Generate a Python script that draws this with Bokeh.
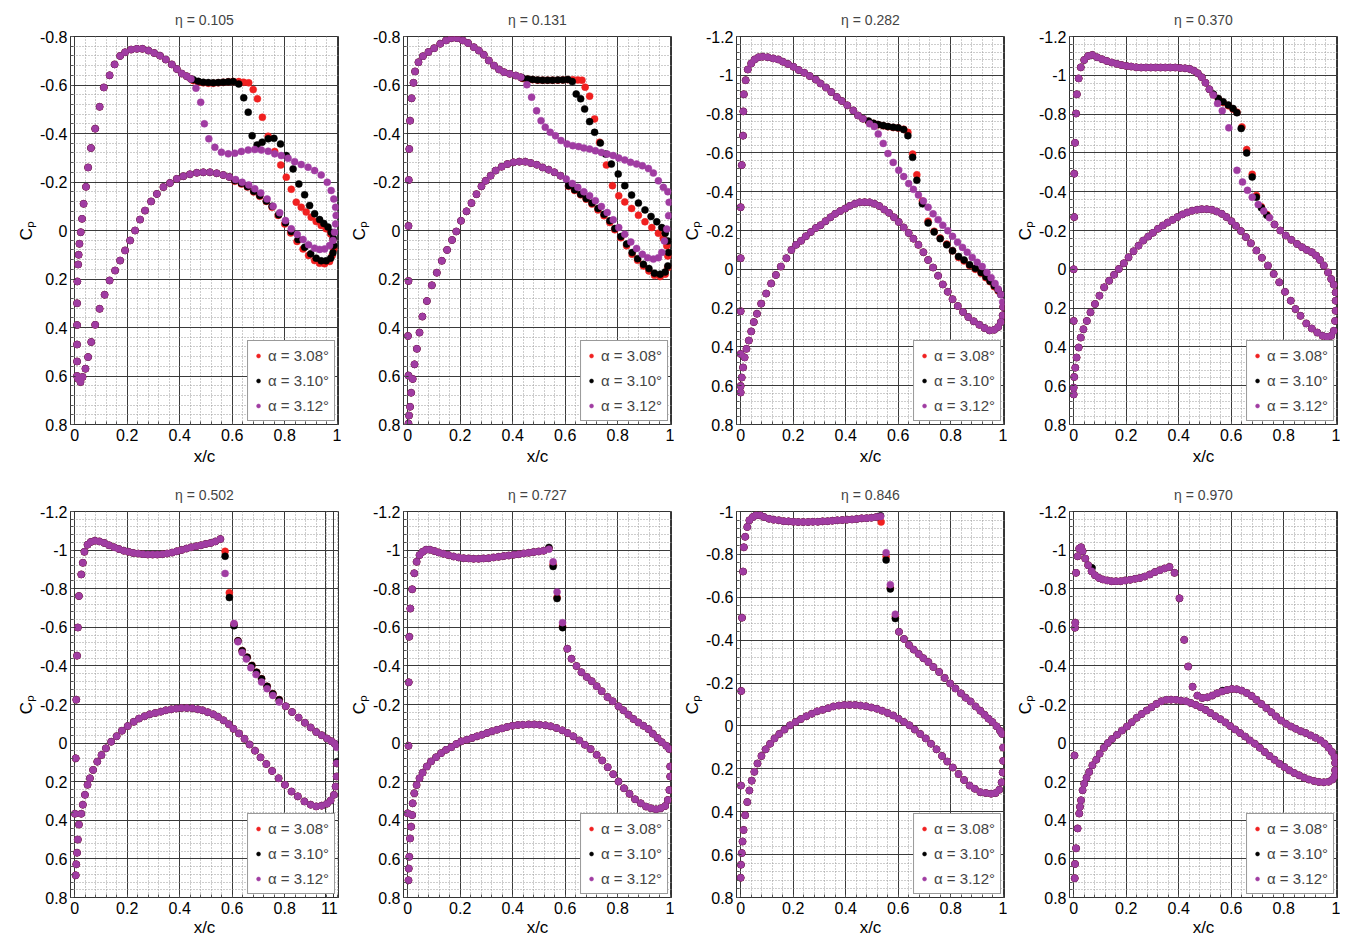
from bokeh.plotting import figure
from bokeh.layouts import column, row
from bokeh.models import (Range1d, FixedTicker, CustomJSTickFormatter, Spacer,
                          ColumnDataSource)
from bokeh.embed import file_html
from bokeh.resources import INLINE
import numpy as np

# ---------------- data ----------------
TITLES = ["η = 0.105", "η = 0.131", "η = 0.282", "η = 0.370",
          "η = 0.502", "η = 0.727", "η = 0.846", "η = 0.970"]
ALPHAS = ["α = 3.08°", "α = 3.10°", "α = 3.12°"]
COLORS = ["#f02020", "#000000", "#a03ca2"]
Y_LOW = [-0.8, -0.8, -1.2, -1.2, -1.2, -1.2, -1.0, -1.2]
Y_HIGH = [0.8] * 8
X_TICKS = [0, 0.2, 0.4, 0.6, 0.8, 1.0]
X_TICKS_P5 = [0, 0.2, 0.4, 0.6, 0.8, 0.955, 0.985]

# ---- panel 1 (eta = 0.105)
P1_UP_X = [0.009, 0.009, 0.009, 0.009, 0.009, 0.010, 0.013, 0.015, 0.018, 0.023, 0.028, 0.034, 0.043, 0.051, 0.062, 0.078, 0.095, 0.111, 0.133, 0.152, 0.173, 0.192, 0.215, 0.237, 0.258, 0.281, 0.303, 0.325, 0.347, 0.370, 0.389, 0.408, 0.427, 0.443]
P1_UP_CP = [0.60, 0.54, 0.47, 0.39, 0.30, 0.21, 0.14, 0.10, 0.055, 0.007, -0.048, -0.11, -0.18, -0.26, -0.34, -0.42, -0.51, -0.59, -0.64, -0.685, -0.72, -0.735, -0.746, -0.749, -0.749, -0.742, -0.732, -0.721, -0.705, -0.685, -0.666, -0.647, -0.636, -0.625]
P1_LO_X = [0.589, 0.566, 0.541, 0.515, 0.490, 0.465, 0.439, 0.414, 0.389, 0.363, 0.338, 0.313, 0.291, 0.268, 0.249, 0.230, 0.211, 0.192, 0.173, 0.154, 0.133, 0.114, 0.095, 0.078, 0.063, 0.051, 0.041, 0.030, 0.022, 0.013]
P1_LO_CP = [-0.221, -0.229, -0.236, -0.240, -0.240, -0.238, -0.232, -0.224, -0.213, -0.196, -0.179, -0.151, -0.12, -0.082, -0.045, 0.0, 0.041, 0.082, 0.124, 0.165, 0.206, 0.265, 0.323, 0.389, 0.46, 0.522, 0.57, 0.604, 0.625, 0.611]
P1_A308_X = [0.452, 0.471, 0.490, 0.509, 0.528, 0.547, 0.566, 0.585, 0.604, 0.625, 0.644, 0.663, 0.680, 0.696, 0.715, 0.737, 0.762, 0.785, 0.806, 0.825, 0.844, 0.863, 0.882, 0.901, 0.920, 0.939, 0.958, 0.975, 0.984, 0.987, 0.981, 0.971, 0.952, 0.933, 0.914, 0.891, 0.870, 0.847, 0.823, 0.800, 0.775, 0.752, 0.730, 0.705, 0.682, 0.658, 0.635, 0.610]
P1_A308_CP = [-0.618, -0.611, -0.609, -0.607, -0.607, -0.609, -0.611, -0.613, -0.614, -0.614, -0.611, -0.609, -0.581, -0.543, -0.467, -0.389, -0.326, -0.27, -0.22, -0.17, -0.117, -0.096, -0.076, -0.055, -0.037, -0.021, -0.007, 0.014, 0.037, 0.076, 0.103, 0.128, 0.137, 0.135, 0.124, 0.103, 0.076, 0.045, 0.01, -0.027, -0.062, -0.096, -0.12, -0.141, -0.159, -0.179, -0.192, -0.203]
P1_A310_X = [0.452, 0.471, 0.490, 0.509, 0.528, 0.547, 0.566, 0.585, 0.604, 0.625, 0.644, 0.661, 0.676, 0.695, 0.714, 0.737, 0.759, 0.784, 0.806, 0.832, 0.854, 0.876, 0.895, 0.914, 0.933, 0.949, 0.965, 0.977, 0.985, 0.987, 0.984, 0.975, 0.958, 0.939, 0.920, 0.899, 0.876, 0.851, 0.825, 0.803, 0.777, 0.752, 0.730, 0.705, 0.682, 0.658, 0.635, 0.610]
P1_A310_CP = [-0.622, -0.615, -0.611, -0.610, -0.609, -0.610, -0.611, -0.613, -0.614, -0.604, -0.547, -0.488, -0.391, -0.353, -0.364, -0.378, -0.380, -0.357, -0.309, -0.254, -0.192, -0.147, -0.103, -0.069, -0.045, -0.029, -0.014, 0.007, 0.032, 0.062, 0.092, 0.114, 0.125, 0.125, 0.114, 0.096, 0.069, 0.037, 0.004, -0.032, -0.065, -0.1, -0.122, -0.144, -0.162, -0.181, -0.195, -0.206]
P1_A312_X = [0.462, 0.480, 0.494, 0.511, 0.534, 0.559, 0.585, 0.610, 0.635, 0.661, 0.686, 0.711, 0.737, 0.762, 0.787, 0.813, 0.838, 0.863, 0.889, 0.914, 0.939, 0.962, 0.977, 0.987, 0.994, 0.996, 0.994, 0.990, 0.984, 0.971, 0.952, 0.933, 0.914, 0.891, 0.870, 0.848, 0.825, 0.803, 0.781, 0.756, 0.733, 0.709, 0.686, 0.663, 0.638, 0.613]
P1_A312_CP = [-0.587, -0.529, -0.44, -0.378, -0.343, -0.323, -0.316, -0.319, -0.326, -0.332, -0.334, -0.332, -0.327, -0.316, -0.309, -0.298, -0.284, -0.272, -0.261, -0.247, -0.229, -0.199, -0.165, -0.13, -0.096, -0.062, -0.027, 0.007, 0.041, 0.062, 0.076, 0.078, 0.073, 0.059, 0.037, 0.016, -0.007, -0.041, -0.073, -0.1, -0.13, -0.155, -0.172, -0.188, -0.199, -0.21]

# ---- panel 2 (eta = 0.131)
P2_UP_X = [0.003, 0.001, 0.003, 0.003, 0.004, 0.006, 0.009, 0.015, 0.022, 0.028, 0.041, 0.058, 0.079, 0.101, 0.124, 0.146, 0.166, 0.188, 0.210, 0.230, 0.252, 0.271, 0.290, 0.309, 0.329, 0.348, 0.367, 0.389, 0.412, 0.431]
P2_UP_CP = [0.598, 0.435, 0.208, -0.019, -0.208, -0.336, -0.453, -0.545, -0.609, -0.656, -0.694, -0.719, -0.736, -0.752, -0.770, -0.784, -0.793, -0.793, -0.784, -0.773, -0.756, -0.742, -0.725, -0.701, -0.680, -0.664, -0.653, -0.646, -0.639, -0.632]
P2_LO_X = [0.582, 0.559, 0.537, 0.514, 0.492, 0.469, 0.448, 0.425, 0.403, 0.380, 0.358, 0.335, 0.316, 0.297, 0.281, 0.262, 0.243, 0.224, 0.203, 0.185, 0.169, 0.150, 0.130, 0.111, 0.092, 0.073, 0.056, 0.045, 0.035, 0.026, 0.019, 0.013, 0.009, 0.005, 0.003]
P2_LO_CP = [-0.226, -0.24, -0.251, -0.26, -0.271, -0.278, -0.284, -0.284, -0.281, -0.274, -0.263, -0.247, -0.226, -0.205, -0.182, -0.15, -0.113, -0.079, -0.04, 0.004, 0.039, 0.08, 0.125, 0.174, 0.226, 0.291, 0.355, 0.421, 0.488, 0.552, 0.612, 0.669, 0.727, 0.763, 0.796]
P2_A308_X = [0.437, 0.457, 0.476, 0.495, 0.514, 0.533, 0.552, 0.572, 0.591, 0.610, 0.629, 0.648, 0.664, 0.676, 0.693, 0.712, 0.731, 0.757, 0.780, 0.804, 0.827, 0.853, 0.879, 0.904, 0.930, 0.955, 0.974, 0.987, 0.991, 0.991, 0.981, 0.962, 0.940, 0.919, 0.898, 0.876, 0.855, 0.834, 0.812, 0.789, 0.770, 0.748, 0.725, 0.702, 0.680, 0.659, 0.636, 0.613]
P2_A308_CP = [-0.627, -0.624, -0.622, -0.62, -0.62, -0.62, -0.62, -0.62, -0.621, -0.622, -0.622, -0.621, -0.62, -0.591, -0.554, -0.46, -0.364, -0.27, -0.185, -0.143, -0.118, -0.091, -0.063, -0.036, -0.012, 0.011, 0.033, 0.063, 0.105, 0.153, 0.18, 0.19, 0.185, 0.167, 0.146, 0.123, 0.098, 0.063, 0.03, -0.003, -0.033, -0.061, -0.085, -0.109, -0.129, -0.147, -0.165, -0.182]
P2_A310_X = [0.437, 0.457, 0.476, 0.495, 0.514, 0.533, 0.552, 0.572, 0.591, 0.610, 0.627, 0.642, 0.659, 0.674, 0.693, 0.712, 0.734, 0.754, 0.776, 0.802, 0.827, 0.853, 0.879, 0.904, 0.927, 0.949, 0.968, 0.981, 0.991, 0.994, 0.991, 0.981, 0.962, 0.940, 0.919, 0.898, 0.876, 0.855, 0.834, 0.812, 0.789, 0.770, 0.748, 0.725, 0.702, 0.680, 0.659, 0.636, 0.613]
P2_A310_CP = [-0.629, -0.625, -0.623, -0.621, -0.62, -0.62, -0.62, -0.621, -0.621, -0.623, -0.614, -0.563, -0.543, -0.501, -0.449, -0.405, -0.361, -0.315, -0.274, -0.233, -0.185, -0.146, -0.113, -0.085, -0.058, -0.036, -0.012, 0.011, 0.043, 0.091, 0.146, 0.171, 0.18, 0.176, 0.157, 0.139, 0.116, 0.091, 0.056, 0.025, -0.008, -0.04, -0.067, -0.091, -0.113, -0.132, -0.15, -0.168, -0.185]
P2_A312_X = [0.454, 0.472, 0.491, 0.508, 0.524, 0.543, 0.563, 0.584, 0.607, 0.629, 0.651, 0.671, 0.693, 0.715, 0.738, 0.760, 0.783, 0.804, 0.827, 0.849, 0.872, 0.894, 0.917, 0.936, 0.955, 0.974, 0.991, 0.996, 0.994, 0.987, 0.978, 0.968, 0.955, 0.936, 0.914, 0.894, 0.872, 0.850, 0.827, 0.804, 0.783, 0.760, 0.738, 0.715, 0.693, 0.671, 0.648, 0.627, 0.604]
P2_A312_CP = [-0.601, -0.55, -0.494, -0.453, -0.426, -0.405, -0.391, -0.371, -0.357, -0.35, -0.346, -0.34, -0.336, -0.329, -0.322, -0.315, -0.309, -0.299, -0.291, -0.281, -0.274, -0.267, -0.256, -0.237, -0.205, -0.178, -0.16, -0.116, -0.061, -0.006, 0.043, 0.091, 0.112, 0.118, 0.112, 0.098, 0.074, 0.047, 0.015, -0.012, -0.044, -0.074, -0.099, -0.123, -0.143, -0.16, -0.178, -0.194, -0.212]

# ---- panel 3 (eta = 0.282)
P3_UP_X = [0.0, 0.0, 0.0, 0.0, 0.004, 0.009, 0.010, 0.012, 0.019, 0.027, 0.040, 0.053, 0.068, 0.084, 0.103, 0.124, 0.143, 0.161, 0.180, 0.201, 0.221, 0.242, 0.263, 0.286, 0.304, 0.325, 0.345, 0.366, 0.385, 0.406, 0.429, 0.447, 0.466]
P3_UP_CP = [0.436, 0.216, -0.057, -0.32, -0.537, -0.689, -0.814, -0.902, -0.975, -1.03, -1.061, -1.082, -1.093, -1.096, -1.093, -1.087, -1.082, -1.07, -1.058, -1.044, -1.027, -1.013, -0.996, -0.978, -0.958, -0.937, -0.914, -0.888, -0.868, -0.845, -0.819, -0.793, -0.776]
P3_LO_X = [1.0, 0.998, 0.991, 0.981, 0.966, 0.948, 0.929, 0.909, 0.888, 0.867, 0.847, 0.827, 0.807, 0.789, 0.770, 0.752, 0.733, 0.714, 0.696, 0.677, 0.658, 0.640, 0.621, 0.602, 0.584, 0.565, 0.547, 0.528, 0.509, 0.491, 0.472, 0.453, 0.435, 0.416, 0.398, 0.379, 0.360, 0.342, 0.323, 0.304, 0.286, 0.267, 0.248, 0.230, 0.211, 0.193, 0.174, 0.153, 0.134, 0.116, 0.097, 0.078, 0.062, 0.050, 0.040, 0.031, 0.022, 0.015, 0.009, 0.004, 0.0, 0.0]
P3_LO_CP = [0.194, 0.237, 0.272, 0.298, 0.312, 0.315, 0.303, 0.286, 0.268, 0.246, 0.22, 0.189, 0.154, 0.116, 0.078, 0.033, -0.009, -0.048, -0.088, -0.126, -0.158, -0.187, -0.216, -0.244, -0.268, -0.291, -0.308, -0.326, -0.338, -0.345, -0.346, -0.345, -0.338, -0.327, -0.313, -0.3, -0.286, -0.268, -0.248, -0.227, -0.213, -0.192, -0.17, -0.147, -0.126, -0.1, -0.057, -0.014, 0.029, 0.073, 0.125, 0.177, 0.229, 0.272, 0.32, 0.367, 0.41, 0.454, 0.506, 0.558, 0.601, 0.635]
P3_A308_X = [0.487, 0.506, 0.524, 0.543, 0.561, 0.581, 0.600, 0.621, 0.637, 0.655, 0.671, 0.692, 0.714, 0.737, 0.760, 0.785, 0.807, 0.830, 0.851, 0.872, 0.894, 0.916, 0.934, 0.950, 0.966, 0.981]
P3_A308_CP = [-0.762, -0.752, -0.745, -0.74, -0.735, -0.731, -0.728, -0.722, -0.706, -0.594, -0.487, -0.352, -0.248, -0.196, -0.161, -0.13, -0.095, -0.061, -0.043, -0.019, 0.0, 0.021, 0.043, 0.064, 0.09, 0.111]
P3_A310_X = [0.487, 0.506, 0.524, 0.543, 0.561, 0.581, 0.600, 0.621, 0.637, 0.655, 0.671, 0.692, 0.714, 0.737, 0.760, 0.785, 0.807, 0.830, 0.851, 0.872, 0.894, 0.916, 0.934, 0.950, 0.966, 0.981, 0.991]
P3_A310_CP = [-0.764, -0.753, -0.746, -0.741, -0.736, -0.732, -0.729, -0.72, -0.689, -0.577, -0.459, -0.338, -0.239, -0.192, -0.158, -0.126, -0.095, -0.066, -0.048, -0.023, -0.005, 0.016, 0.038, 0.061, 0.085, 0.107, 0.13]
P3_A312_X = [0.491, 0.509, 0.524, 0.543, 0.561, 0.581, 0.602, 0.621, 0.640, 0.658, 0.677, 0.696, 0.714, 0.733, 0.752, 0.770, 0.789, 0.807, 0.826, 0.845, 0.863, 0.882, 0.901, 0.920, 0.938, 0.954, 0.969, 0.981, 0.991, 0.998]
P3_A312_CP = [-0.75, -0.736, -0.698, -0.649, -0.597, -0.551, -0.511, -0.478, -0.442, -0.412, -0.383, -0.352, -0.32, -0.286, -0.256, -0.227, -0.199, -0.17, -0.14, -0.113, -0.088, -0.061, -0.036, -0.014, 0.016, 0.043, 0.073, 0.102, 0.13, 0.168]

# ---- panel 4 (eta = 0.370)
P4_UP_X = [0.0, 0.0, 0.002, 0.002, 0.005, 0.009, 0.012, 0.019, 0.027, 0.040, 0.055, 0.071, 0.089, 0.108, 0.126, 0.145, 0.164, 0.182, 0.201, 0.219, 0.238, 0.257, 0.275, 0.294, 0.312, 0.331, 0.349, 0.368, 0.387, 0.405, 0.424, 0.442, 0.458, 0.473, 0.488, 0.502, 0.517]
P4_UP_CP = [0.266, 0.0, -0.269, -0.493, -0.652, -0.803, -0.902, -0.984, -1.041, -1.079, -1.1, -1.105, -1.093, -1.083, -1.074, -1.066, -1.059, -1.053, -1.048, -1.045, -1.041, -1.04, -1.04, -1.04, -1.04, -1.04, -1.04, -1.04, -1.04, -1.038, -1.036, -1.033, -1.024, -1.01, -0.99, -0.962, -0.928]
P4_LO_X = [0.765, 0.787, 0.808, 0.829, 0.851, 0.870, 0.888, 0.907, 0.923, 0.938, 0.953, 0.969, 0.981, 0.991, 0.998, 0.998, 0.998, 0.996, 0.991, 0.981, 0.965, 0.948, 0.928, 0.907, 0.886, 0.864, 0.845, 0.827, 0.805, 0.783, 0.762, 0.740, 0.717, 0.696, 0.675, 0.656, 0.637, 0.618, 0.601, 0.582, 0.564, 0.545, 0.527, 0.507, 0.488, 0.470, 0.451, 0.432, 0.414, 0.395, 0.377, 0.358, 0.340, 0.321, 0.302, 0.284, 0.265, 0.247, 0.228, 0.209, 0.191, 0.172, 0.154, 0.135, 0.116, 0.098, 0.081, 0.064, 0.050, 0.037, 0.027, 0.019, 0.011, 0.006, 0.002, 0.0, 0.0]
P4_LO_CP = [-0.231, -0.2, -0.174, -0.152, -0.131, -0.114, -0.1, -0.088, -0.071, -0.048, -0.019, 0.016, 0.05, 0.079, 0.119, 0.162, 0.214, 0.266, 0.317, 0.343, 0.348, 0.343, 0.326, 0.305, 0.279, 0.24, 0.205, 0.162, 0.116, 0.067, 0.024, -0.019, -0.059, -0.097, -0.134, -0.166, -0.197, -0.224, -0.248, -0.269, -0.286, -0.298, -0.307, -0.31, -0.31, -0.307, -0.302, -0.293, -0.283, -0.269, -0.255, -0.241, -0.226, -0.209, -0.188, -0.169, -0.148, -0.122, -0.093, -0.062, -0.031, -0.002, 0.028, 0.059, 0.093, 0.136, 0.179, 0.222, 0.266, 0.309, 0.352, 0.403, 0.455, 0.507, 0.555, 0.61, 0.645]
P4_A308_X = [0.532, 0.551, 0.569, 0.589, 0.607, 0.622, 0.641, 0.659, 0.680, 0.696, 0.715, 0.736]
P4_A308_CP = [-0.9, -0.878, -0.86, -0.843, -0.826, -0.81, -0.734, -0.617, -0.49, -0.381, -0.322, -0.283]
P4_A310_X = [0.532, 0.551, 0.569, 0.589, 0.607, 0.622, 0.638, 0.659, 0.680, 0.696, 0.715, 0.736]
P4_A310_CP = [-0.903, -0.881, -0.864, -0.847, -0.829, -0.807, -0.726, -0.6, -0.476, -0.372, -0.317, -0.278]
P4_A312_X = [0.532, 0.548, 0.566, 0.591, 0.622, 0.643, 0.662, 0.680, 0.703, 0.724, 0.746]
P4_A312_CP = [-0.898, -0.855, -0.817, -0.729, -0.51, -0.45, -0.407, -0.372, -0.334, -0.3, -0.266]

# ---- panel 5 (eta = 0.502)
P5_UP_X = [0.001, 0.004, 0.006, 0.009, 0.012, 0.016, 0.025, 0.031, 0.037, 0.049, 0.061, 0.077, 0.094, 0.113, 0.131, 0.150, 0.168, 0.187, 0.205, 0.223, 0.242, 0.260, 0.279, 0.297, 0.315, 0.334, 0.352, 0.371, 0.389, 0.407, 0.426, 0.444, 0.463, 0.481, 0.499, 0.518, 0.536, 0.555]
P5_UP_CP = [0.366, 0.079, -0.225, -0.453, -0.599, -0.762, -0.874, -0.934, -0.991, -1.028, -1.042, -1.049, -1.045, -1.037, -1.025, -1.015, -1.006, -0.997, -0.991, -0.985, -0.982, -0.979, -0.977, -0.977, -0.977, -0.979, -0.982, -0.987, -0.994, -1.001, -1.008, -1.015, -1.02, -1.025, -1.032, -1.037, -1.045, -1.057]
P5_LO_X = [0.804, 0.828, 0.853, 0.877, 0.899, 0.920, 0.941, 0.961, 0.978, 0.990, 0.998, 0.998, 0.994, 0.988, 0.975, 0.961, 0.941, 0.920, 0.899, 0.875, 0.850, 0.826, 0.801, 0.777, 0.752, 0.730, 0.708, 0.687, 0.666, 0.647, 0.626, 0.605, 0.587, 0.567, 0.546, 0.528, 0.507, 0.487, 0.469, 0.448, 0.427, 0.407, 0.387, 0.368, 0.347, 0.328, 0.307, 0.286, 0.266, 0.245, 0.225, 0.202, 0.180, 0.160, 0.139, 0.119, 0.102, 0.086, 0.070, 0.058, 0.049, 0.039, 0.031, 0.025, 0.016, 0.012, 0.009, 0.006, 0.004]
P5_LO_CP = [-0.191, -0.161, -0.132, -0.105, -0.081, -0.058, -0.041, -0.024, -0.01, 0.002, 0.105, 0.173, 0.225, 0.268, 0.297, 0.314, 0.324, 0.328, 0.319, 0.302, 0.276, 0.251, 0.216, 0.182, 0.144, 0.108, 0.074, 0.039, 0.007, -0.022, -0.05, -0.074, -0.098, -0.118, -0.136, -0.149, -0.16, -0.17, -0.175, -0.18, -0.182, -0.182, -0.179, -0.175, -0.17, -0.163, -0.156, -0.149, -0.139, -0.127, -0.11, -0.088, -0.064, -0.036, -0.007, 0.027, 0.062, 0.096, 0.139, 0.182, 0.216, 0.268, 0.319, 0.366, 0.422, 0.5, 0.568, 0.628, 0.685]
P5_A308_X = [0.573, 0.589, 0.607, 0.622, 0.638, 0.657, 0.675, 0.693, 0.712, 0.733, 0.755, 0.779]
P5_A308_CP = [-0.994, -0.779, -0.616, -0.53, -0.479, -0.445, -0.402, -0.367, -0.333, -0.294, -0.256, -0.225]
P5_A310_X = [0.573, 0.589, 0.607, 0.622, 0.638, 0.657, 0.675, 0.693, 0.712, 0.733, 0.755, 0.779, 0.998, 1.0]
P5_A310_CP = [-0.968, -0.754, -0.608, -0.53, -0.479, -0.445, -0.402, -0.367, -0.333, -0.294, -0.256, -0.225, 0.008, 0.096]
P5_A312_X = [0.573, 0.607, 0.622, 0.638, 0.654, 0.671, 0.691, 0.712, 0.733, 0.755, 0.779, 0.998]
P5_A312_CP = [-0.879, -0.62, -0.525, -0.47, -0.436, -0.39, -0.355, -0.316, -0.282, -0.247, -0.213, 0.022]

# ---- panel 6 (eta = 0.727)
P6_UP_X = [0.0, 0.003, 0.004, 0.006, 0.010, 0.017, 0.025, 0.034, 0.045, 0.057, 0.070, 0.085, 0.102, 0.118, 0.136, 0.155, 0.175, 0.194, 0.213, 0.232, 0.251, 0.270, 0.289, 0.308, 0.327, 0.346, 0.366, 0.385, 0.404, 0.423, 0.442, 0.461, 0.480, 0.499, 0.518]
P6_UP_CP = [0.364, 0.014, -0.315, -0.551, -0.697, -0.797, -0.88, -0.939, -0.974, -0.991, -1.002, -1.002, -0.995, -0.988, -0.981, -0.974, -0.967, -0.962, -0.958, -0.957, -0.955, -0.955, -0.957, -0.958, -0.962, -0.965, -0.969, -0.972, -0.976, -0.979, -0.983, -0.986, -0.99, -0.993, -0.997]
P6_LO_X = [0.608, 0.624, 0.643, 0.662, 0.682, 0.701, 0.720, 0.739, 0.761, 0.781, 0.803, 0.822, 0.841, 0.860, 0.879, 0.898, 0.917, 0.934, 0.952, 0.968, 0.985, 0.997, 1.0, 1.0, 0.997, 0.991, 0.981, 0.964, 0.946, 0.927, 0.908, 0.888, 0.866, 0.845, 0.824, 0.803, 0.783, 0.762, 0.741, 0.720, 0.697, 0.675, 0.654, 0.631, 0.609, 0.589, 0.567, 0.545, 0.525, 0.503, 0.482, 0.461, 0.439, 0.420, 0.399, 0.378, 0.359, 0.340, 0.321, 0.302, 0.283, 0.264, 0.245, 0.225, 0.204, 0.185, 0.166, 0.146, 0.127, 0.108, 0.089, 0.073, 0.057, 0.045, 0.034, 0.025, 0.019, 0.017, 0.013, 0.009, 0.006, 0.004, 0.003]
P6_LO_CP = [-0.489, -0.437, -0.399, -0.367, -0.343, -0.321, -0.295, -0.269, -0.239, -0.217, -0.191, -0.17, -0.147, -0.125, -0.107, -0.09, -0.073, -0.049, -0.026, -0.005, 0.014, 0.031, 0.121, 0.173, 0.243, 0.295, 0.326, 0.338, 0.343, 0.338, 0.329, 0.312, 0.291, 0.263, 0.234, 0.199, 0.161, 0.125, 0.09, 0.061, 0.031, 0.009, -0.014, -0.035, -0.052, -0.066, -0.078, -0.087, -0.092, -0.095, -0.097, -0.097, -0.095, -0.094, -0.09, -0.083, -0.076, -0.069, -0.061, -0.052, -0.043, -0.035, -0.026, -0.017, -0.009, 0.005, 0.021, 0.035, 0.052, 0.073, 0.095, 0.121, 0.153, 0.182, 0.217, 0.26, 0.312, 0.373, 0.433, 0.494, 0.589, 0.65, 0.711]
P6_A308_X = [0.538, 0.554, 0.569, 0.590]
P6_A308_CP = [-1.01, -0.925, -0.755, -0.605]
P6_A310_X = [0.538, 0.554, 0.569, 0.590]
P6_A310_CP = [-1.014, -0.915, -0.749, -0.598]
P6_A312_X = [0.538, 0.554, 0.569, 0.590]
P6_A312_CP = [-1.005, -0.939, -0.783, -0.624]

# ---- panel 7 (eta = 0.846)
P7_UP_X = [0.001, 0.002, 0.005, 0.009, 0.012, 0.017, 0.025, 0.033, 0.046, 0.058, 0.074, 0.089, 0.108, 0.126, 0.145, 0.164, 0.182, 0.201, 0.219, 0.238, 0.257, 0.275, 0.294, 0.312, 0.331, 0.349, 0.368, 0.387, 0.405, 0.424, 0.442, 0.461, 0.480, 0.498, 0.517]
P7_UP_CP = [0.278, -0.163, -0.505, -0.72, -0.833, -0.882, -0.928, -0.959, -0.974, -0.982, -0.982, -0.974, -0.966, -0.962, -0.959, -0.955, -0.954, -0.952, -0.951, -0.951, -0.951, -0.952, -0.952, -0.954, -0.955, -0.957, -0.959, -0.96, -0.962, -0.963, -0.965, -0.968, -0.969, -0.971, -0.974]
P7_LO_X = [0.603, 0.622, 0.641, 0.659, 0.678, 0.696, 0.715, 0.734, 0.756, 0.777, 0.798, 0.818, 0.839, 0.857, 0.876, 0.895, 0.913, 0.929, 0.944, 0.959, 0.975, 0.988, 0.996, 1.0, 1.0, 0.998, 0.994, 0.985, 0.971, 0.954, 0.934, 0.913, 0.892, 0.872, 0.851, 0.830, 0.808, 0.787, 0.767, 0.746, 0.725, 0.705, 0.684, 0.663, 0.643, 0.622, 0.601, 0.581, 0.560, 0.539, 0.519, 0.498, 0.477, 0.457, 0.436, 0.415, 0.395, 0.374, 0.353, 0.333, 0.312, 0.291, 0.271, 0.250, 0.229, 0.209, 0.188, 0.167, 0.147, 0.129, 0.112, 0.095, 0.079, 0.064, 0.052, 0.042, 0.033, 0.025, 0.017, 0.011, 0.007, 0.004, 0.001, 0.0]
P7_LO_CP = [-0.439, -0.406, -0.378, -0.356, -0.336, -0.316, -0.298, -0.275, -0.252, -0.224, -0.198, -0.175, -0.152, -0.132, -0.114, -0.091, -0.071, -0.052, -0.034, -0.018, 0.002, 0.022, 0.037, 0.101, 0.163, 0.217, 0.263, 0.298, 0.313, 0.316, 0.313, 0.309, 0.293, 0.278, 0.252, 0.224, 0.194, 0.166, 0.14, 0.109, 0.083, 0.058, 0.037, 0.017, -0.003, -0.018, -0.034, -0.049, -0.06, -0.071, -0.08, -0.086, -0.092, -0.095, -0.098, -0.098, -0.098, -0.095, -0.091, -0.083, -0.075, -0.068, -0.057, -0.045, -0.032, -0.018, -0.003, 0.017, 0.037, 0.058, 0.083, 0.109, 0.14, 0.175, 0.214, 0.255, 0.301, 0.355, 0.416, 0.485, 0.539, 0.593, 0.647, 0.708]
P7_A308_X = [0.535, 0.554, 0.570, 0.589]
P7_A308_CP = [-0.951, -0.79, -0.645, -0.51]
P7_A310_X = [0.533, 0.554, 0.570, 0.589]
P7_A310_CP = [-0.98, -0.774, -0.639, -0.501]
P7_A312_X = [0.533, 0.554, 0.570, 0.589]
P7_A312_CP = [-0.977, -0.808, -0.659, -0.521]

# ---- panel 8 (eta = 0.970)
P8_UP_X = [0.003, 0.005, 0.006, 0.009, 0.015, 0.021, 0.028, 0.034, 0.044, 0.055, 0.068, 0.081, 0.096, 0.111, 0.128, 0.144, 0.161, 0.179, 0.196, 0.215, 0.234, 0.253, 0.271, 0.290, 0.309, 0.328, 0.346, 0.365, 0.384, 0.403, 0.421, 0.436, 0.453, 0.471, 0.490, 0.509, 0.528, 0.546, 0.565, 0.584, 0.603, 0.621, 0.640, 0.659, 0.678, 0.696, 0.715, 0.734, 0.753, 0.771, 0.790, 0.809, 0.828, 0.846, 0.865, 0.884, 0.903, 0.921, 0.940, 0.956, 0.971, 0.984, 0.994, 0.996]
P8_UP_CP = [0.064, -0.598, -0.624, -0.882, -0.968, -1.008, -1.015, -0.994, -0.956, -0.922, -0.891, -0.87, -0.856, -0.848, -0.843, -0.839, -0.839, -0.839, -0.843, -0.846, -0.851, -0.856, -0.863, -0.874, -0.886, -0.896, -0.905, -0.913, -0.882, -0.75, -0.535, -0.397, -0.292, -0.246, -0.234, -0.237, -0.246, -0.258, -0.268, -0.275, -0.28, -0.279, -0.272, -0.26, -0.244, -0.224, -0.203, -0.182, -0.16, -0.138, -0.117, -0.1, -0.086, -0.074, -0.062, -0.052, -0.04, -0.028, -0.014, 0.003, 0.024, 0.046, 0.072, 0.103]
P8_LO_X = [0.996, 0.994, 0.986, 0.971, 0.953, 0.934, 0.915, 0.896, 0.878, 0.859, 0.840, 0.821, 0.803, 0.784, 0.765, 0.746, 0.728, 0.709, 0.690, 0.671, 0.653, 0.634, 0.615, 0.596, 0.578, 0.559, 0.540, 0.521, 0.503, 0.484, 0.465, 0.446, 0.428, 0.409, 0.390, 0.371, 0.353, 0.334, 0.315, 0.296, 0.278, 0.259, 0.240, 0.221, 0.203, 0.184, 0.165, 0.146, 0.130, 0.115, 0.099, 0.086, 0.071, 0.059, 0.049, 0.040, 0.034, 0.028, 0.024, 0.021, 0.015, 0.009, 0.005, 0.004]
P8_LO_CP = [0.141, 0.172, 0.189, 0.2, 0.203, 0.201, 0.196, 0.189, 0.179, 0.167, 0.155, 0.141, 0.124, 0.107, 0.086, 0.067, 0.046, 0.024, 0.003, -0.014, -0.034, -0.052, -0.071, -0.089, -0.107, -0.124, -0.139, -0.156, -0.172, -0.186, -0.198, -0.208, -0.217, -0.22, -0.224, -0.225, -0.224, -0.217, -0.203, -0.186, -0.169, -0.151, -0.131, -0.108, -0.086, -0.065, -0.043, -0.021, 0.0, 0.024, 0.055, 0.086, 0.115, 0.15, 0.179, 0.21, 0.244, 0.296, 0.33, 0.365, 0.442, 0.545, 0.626, 0.7]
P8_A308_X = []
P8_A308_CP = []
P8_A310_X = [0.070, 0.567]
P8_A310_CP = [-0.908, -0.272]
P8_A312_X = []
P8_A312_CP = []

PANELS = [
    (P1_UP_X, P1_UP_CP, P1_LO_X, P1_LO_CP, [(P1_A308_X, P1_A308_CP), (P1_A310_X, P1_A310_CP), (P1_A312_X, P1_A312_CP)]),
    (P2_UP_X, P2_UP_CP, P2_LO_X, P2_LO_CP, [(P2_A308_X, P2_A308_CP), (P2_A310_X, P2_A310_CP), (P2_A312_X, P2_A312_CP)]),
    (P3_UP_X, P3_UP_CP, P3_LO_X, P3_LO_CP, [(P3_A308_X, P3_A308_CP), (P3_A310_X, P3_A310_CP), (P3_A312_X, P3_A312_CP)]),
    (P4_UP_X, P4_UP_CP, P4_LO_X, P4_LO_CP, [(P4_A308_X, P4_A308_CP), (P4_A310_X, P4_A310_CP), (P4_A312_X, P4_A312_CP)]),
    (P5_UP_X, P5_UP_CP, P5_LO_X, P5_LO_CP, [(P5_A308_X, P5_A308_CP), (P5_A310_X, P5_A310_CP), (P5_A312_X, P5_A312_CP)]),
    (P6_UP_X, P6_UP_CP, P6_LO_X, P6_LO_CP, [(P6_A308_X, P6_A308_CP), (P6_A310_X, P6_A310_CP), (P6_A312_X, P6_A312_CP)]),
    (P7_UP_X, P7_UP_CP, P7_LO_X, P7_LO_CP, [(P7_A308_X, P7_A308_CP), (P7_A310_X, P7_A310_CP), (P7_A312_X, P7_A312_CP)]),
    (P8_UP_X, P8_UP_CP, P8_LO_X, P8_LO_CP, [(P8_A308_X, P8_A308_CP), (P8_A310_X, P8_A310_CP), (P8_A312_X, P8_A312_CP)]),
]

FONT = "Liberation Sans"
FMT = CustomJSTickFormatter(code="const v = Math.round(tick*10)/10; return String(v === 0 ? 0 : v);")


def make_panel(i):
    up_x, up_cp, lo_x, lo_cp, tails = PANELS[i]
    top_row = i < 4
    height = 475 if top_row else 464
    p = figure(width=333, height=height, output_backend="svg", toolbar_location=None,
               x_range=Range1d(-0.016, 1.005), y_range=Range1d(Y_HIGH[i], Y_LOW[i]),
               min_border_left=62, min_border_right=3, min_border_top=36,
               min_border_bottom=51 if top_row else 40,
               background_fill_color="white", border_fill_color="white")
    p.title.text = TITLES[i]
    p.title.align = "center"
    p.title.text_font = FONT
    p.title.text_font_size = "14px"
    p.title.text_font_style = "normal"
    p.title.standoff = 17

    yl = Y_LOW[i]
    ymaj = [round(v, 2) for v in np.arange(yl, 0.8001, 0.2)]
    ymin = [round(v, 2) for v in np.arange(yl, 0.8001, 0.04)]
    xmaj = X_TICKS_P5 if i == 4 else X_TICKS
    xmin = [round(v, 2) for v in np.arange(0, 1.0001, 0.04)]
    p.xaxis.ticker = FixedTicker(ticks=xmaj, minor_ticks=xmin)
    p.yaxis.ticker = FixedTicker(ticks=ymaj, minor_ticks=ymin)
    for ax in (p.xaxis[0], p.yaxis[0]):
        ax.formatter = FMT
        ax.major_label_text_font = FONT
        ax.major_label_text_font_size = "16px"
        ax.major_label_text_color = "black"
        ax.axis_label_text_font = FONT
        ax.axis_label_text_font_size = "17px"
        ax.axis_label_text_font_style = "normal"
        ax.axis_label_text_color = "black"
        ax.axis_line_color = "#333333"
        ax.major_tick_in = 5
        ax.major_tick_out = 0
        ax.minor_tick_in = 3
        ax.minor_tick_out = 0
        ax.major_tick_line_color = "#333333"
        ax.minor_tick_line_color = "#555555"
    p.xaxis.axis_label = "x/c"
    p.yaxis.axis_label = "Cₚ"
    p.xaxis.major_label_standoff = 4
    p.yaxis.major_label_standoff = 3
    p.xaxis.axis_label_standoff = 3 if top_row else 1
    p.yaxis.axis_label_standoff = 1

    p.xgrid.grid_line_color = "#3a3a3a"
    p.ygrid.grid_line_color = "#3a3a3a"
    p.xgrid.grid_line_width = 1
    p.ygrid.grid_line_width = 1
    p.xgrid.minor_grid_line_color = "#9a9a9a"
    p.ygrid.minor_grid_line_color = "#9a9a9a"
    p.xgrid.minor_grid_line_dash = "1 2"
    p.ygrid.minor_grid_line_dash = "1 2"
    p.outline_line_color = "#333333"
    p.outline_line_width = 1

    for (tx, tcp), color, lab in zip(tails, COLORS, ALPHAS):
        xs = list(up_x) + list(tx) + list(lo_x)
        ys = list(up_cp) + list(tcp) + list(lo_cp)
        src = ColumnDataSource(dict(x=xs, y=ys))
        p.scatter("x", "y", source=src, size=7, fill_color=color, line_color=color,
                  line_width=0.5, legend_label=lab)

    lg = p.legend[0]
    lg.location = "bottom_right"
    lg.margin = 3
    lg.padding = 5
    lg.spacing = 6
    lg.glyph_width = 10
    lg.glyph_height = 19
    lg.label_height = 19
    lg.label_standoff = 5
    lg.label_text_font = FONT
    lg.label_text_font_size = "15px"
    lg.border_line_color = "#333333"
    lg.border_line_width = 1
    lg.background_fill_alpha = 1
    lg.background_fill_color = "white"
    return p


figs = [make_panel(i) for i in range(8)]
layout = column(row(Spacer(width=8), *figs[:4]), row(Spacer(width=8), *figs[4:]))

open("out.html", "w").write(file_html(layout, INLINE))
